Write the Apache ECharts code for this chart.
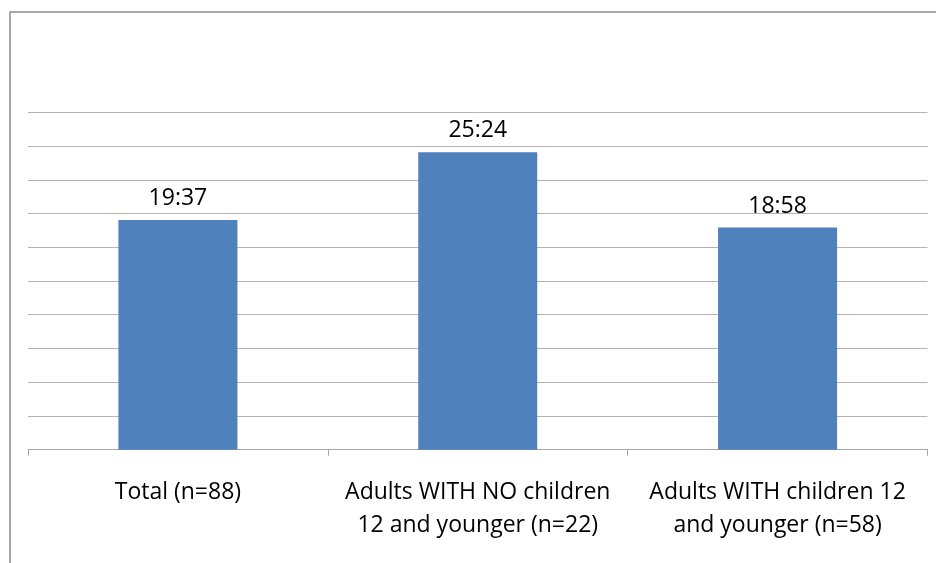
<!DOCTYPE html>
<html>
<head>
<meta charset="utf-8">
<script src="https://cdn.jsdelivr.net/npm/echarts@6/dist/echarts.min.js"></script>
<style>
html,body{margin:0;padding:0;background:#fff;}
#chart{width:936px;height:563px;}
</style>
</head>
<body>
<div id="chart"></div>
<script>
// Categories (line breaks as shown in the picture)
var categories = [
  'Total (n=88)',
  'Adults WITH NO children\n12 and younger (n=22)',
  'Adults WITH children 12\nand younger (n=58)'
];
// Average durations, in seconds (19:37, 25:24, 18:58)
var durationSeconds = [1177, 1524, 1138];
// Value axis (hidden labels): Excel time units of 0.002 day = 172.8 s
var axisMin = 0;
var axisMax = 1728;
var axisStep = 172.8;

function mmss(sec) {
  var m = Math.floor(sec / 60);
  var s = Math.round(sec - m * 60);
  return m + ':' + (s < 10 ? '0' + s : s);
}

var chart = echarts.init(document.getElementById('chart'), null, {renderer: 'canvas'});
chart.setOption({
  animation: false,
  backgroundColor: '#ffffff',
  textStyle: {fontFamily: 'Open Sans'},
  graphic: [{
    type: 'rect',
    left: 7.5, top: 9.5,
    shape: {width: 1000, height: 1000},
    style: {fill: 'none', stroke: '#8c8c8c', lineWidth: 1.5},
    silent: true
  }],
  grid: {left: 28, right: 8.5, top: 112.3, bottom: 113.3, containLabel: false},
  xAxis: {
    type: 'category',
    data: categories,
    axisLine: {lineStyle: {color: '#a6a6a6', width: 1}},
    axisTick: {show: true, length: 6, lineStyle: {color: '#a6a6a6'}},
    axisLabel: {
      color: '#000000',
      fontFamily: 'Open Sans',
      fontSize: 23,
      lineHeight: 33,
      margin: 26,
      interval: 0
    }
  },
  yAxis: {
    type: 'value',
    min: axisMin,
    max: axisMax,
    interval: axisStep,
    axisLabel: {show: false},
    axisLine: {show: false},
    axisTick: {show: false},
    splitLine: {lineStyle: {color: '#b3b3b3', width: 1}}
  },
  series: [{
    type: 'bar',
    data: durationSeconds,
    barWidth: 119,
    itemStyle: {color: '#4f81bd'},
    label: {
      show: true,
      position: 'top',
      distance: 10,
      color: '#000000',
      fontFamily: 'Open Sans',
      fontSize: 23,
      formatter: function (p) { return mmss(p.value); }
    }
  }]
});
</script>
</body>
</html>
